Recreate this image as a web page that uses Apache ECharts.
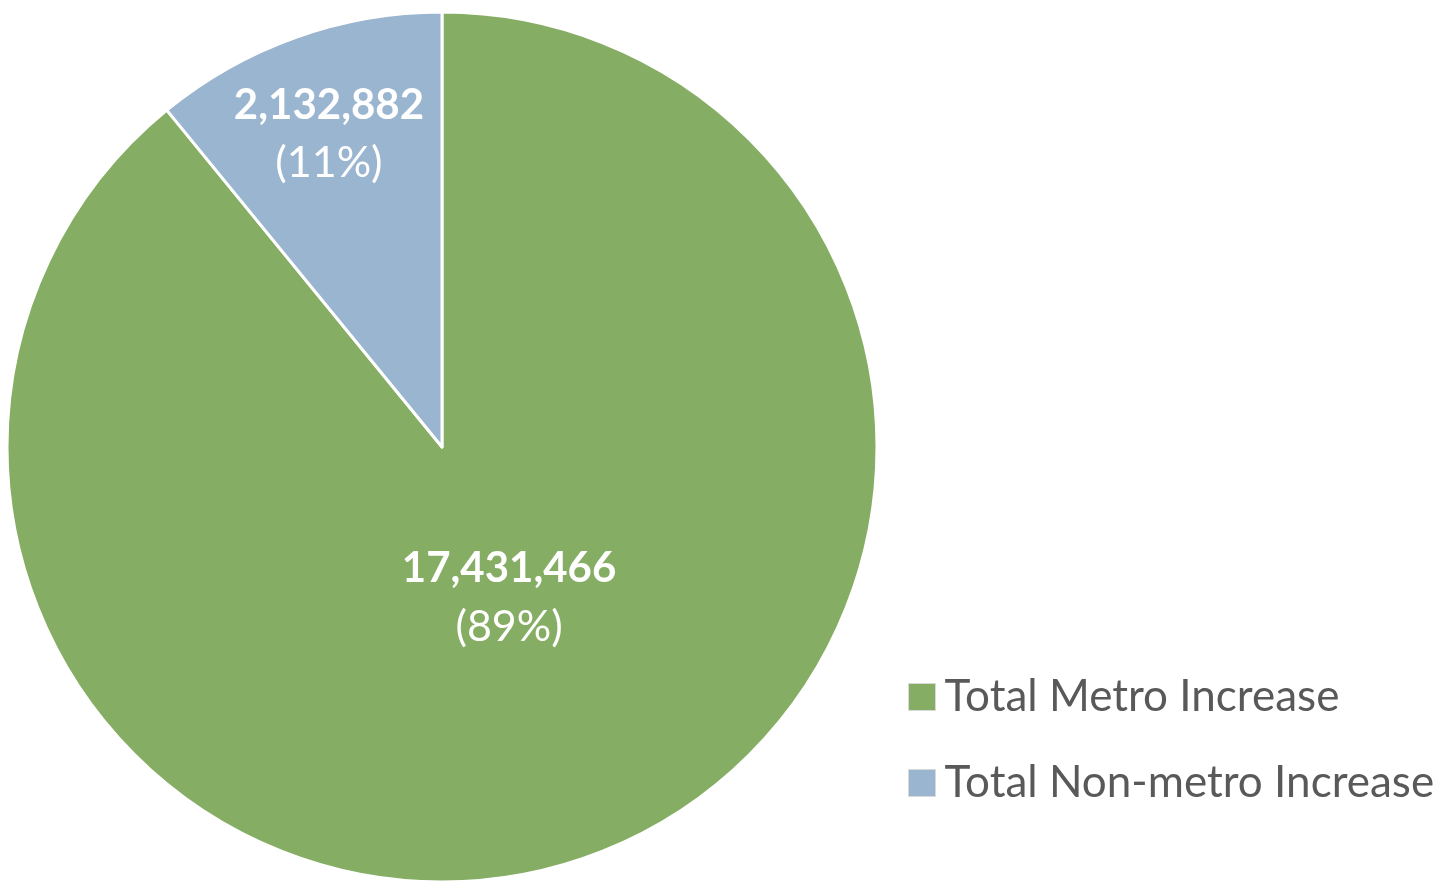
<!DOCTYPE html>
<html>
<head>
<meta charset="utf-8">
<style>
  html, body { margin: 0; padding: 0; background: #fff; }
  #chart { width: 1453px; height: 888px; }
</style>
<script src="https://cdn.jsdelivr.net/npm/echarts@6/dist/echarts.min.js"></script>
</head>
<body>
<div id="chart"></div>
<script>
var categories = ['Total Metro Increase', 'Total Non-metro Increase'];
var values = [17431466, 2132882];
var colors = ['#86ad64', '#9ab5cf'];
// label nudges away from the default "inside" spot, as in the original
var labelOffsets = [[-7, -57], [-39, -105]];

var total = values.reduce(function (a, b) { return a + b; }, 0);
var font = 'Lato, "Open Sans", sans-serif';

var chart = echarts.init(document.getElementById('chart'), null, { renderer: 'canvas' });
chart.setOption({
  animation: false,
  legend: {
    orient: 'vertical',
    left: 903,
    top: 670,
    itemWidth: 27,
    itemHeight: 27,
    itemGap: 42,
    icon: 'rect',
    data: categories,
    itemStyle: { borderColor: '#d9d9d9', borderWidth: 1 },
    textStyle: { color: '#595959', fontSize: 44, lineHeight: 44, fontFamily: font, padding: [0, 0, 0, 4] }
  },
  series: [{
    type: 'pie',
    center: [442, 447],
    radius: [0, 435],
    startAngle: 90,
    clockwise: true,
    itemStyle: { borderColor: '#fff', borderWidth: 3 },
    label: {
      show: true,
      position: 'inside',
      lineHeight: 58,
      formatter: function (p) {
        var pct = Math.round(p.value / total * 100);
        return '{b|' + p.value.toLocaleString('en-US') + '}\n{n|(' + pct + '%)}';
      },
      rich: {
        b: { color: '#fff', fontSize: 42, fontWeight: 'bold', fontFamily: font, lineHeight: 58 },
        n: { color: '#fff', fontSize: 43, fontFamily: font, lineHeight: 58 }
      }
    },
    labelLine: { show: false },
    data: categories.map(function (c, i) {
      return {
        name: c,
        value: values[i],
        itemStyle: { color: colors[i] },
        label: { offset: labelOffsets[i] }
      };
    })
  }]
});
window.addEventListener('resize', function () { chart.resize(); });
</script>
</body>
</html>
